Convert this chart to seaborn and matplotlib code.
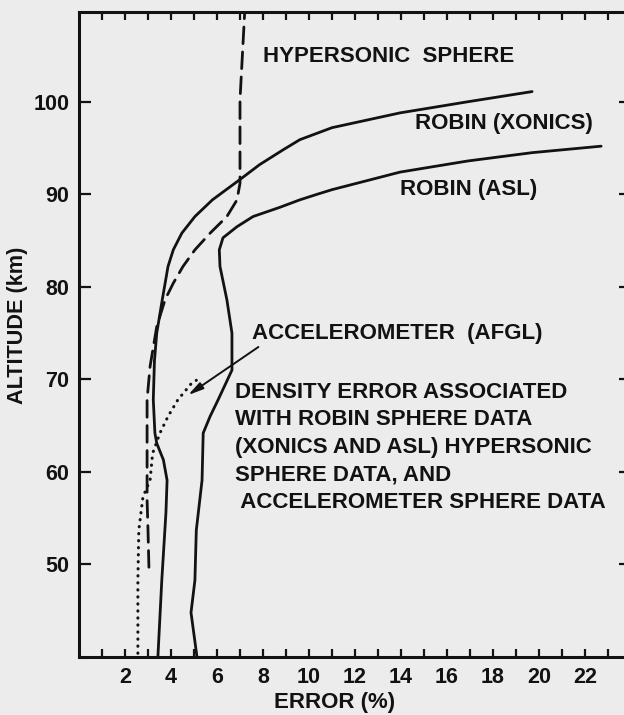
import numpy as np
import seaborn as sns
import matplotlib.pyplot as plt
import pandas as pd

# values (error %, altitude km)
xonics_alt = [40, 48.3, 55.6, 59.1, 61.3, 63.1, 64.2, 67.8, 72, 75, 78.6, 82.2,
              84, 85.8, 87.6, 89.4, 91.6, 93.2, 94.8, 95.9, 97.2, 98.8, 100, 101.1]
xonics_err = [3.43, 3.6, 3.78, 3.83, 3.67, 3.38, 3.3, 3.23, 3.28, 3.38, 3.62, 3.87,
              4.1, 4.47, 5.04, 5.8, 7.0, 7.85, 8.87, 9.6, 11.0, 13.96, 16.9, 19.7]

asl_alt = [40, 44.8, 48.3, 53.7, 59.1, 64.2, 66, 67.8, 71, 75, 78.6, 82.2, 84,
           85.3, 86.5, 87.6, 88.6, 89.4, 90.0, 90.5, 92.4, 93.6, 94.5, 95.2]
asl_err = [5.13, 4.87, 5.04, 5.1, 5.35, 5.4, 5.7, 6.05, 6.65, 6.65, 6.43, 6.13, 6.1,
           6.26, 6.87, 7.57, 8.74, 9.6, 10.35, 11.0, 13.96, 16.9, 19.7, 22.7]

hyp_alt = [49.7, 53.7, 57, 62.4, 67.8, 71.4, 75.7, 78.6, 80.4, 82.2, 84, 85.8,
           87.6, 89.4, 91.2, 100.2, 109.5]
hyp_err = [3.04, 3.0, 2.96, 2.96, 2.96, 3.09, 3.38, 3.74, 4.1, 4.52, 5.04, 5.7,
           6.43, 6.87, 7.0, 7.0, 7.2]

acc_alt = [40.4, 48.3, 53.7, 57.3, 59.1, 62, 64.2, 66, 67.8, 69.6, 69.9]
acc_err = [2.56, 2.56, 2.6, 2.78, 3.09, 3.2, 3.52, 3.87, 4.3, 4.9, 5.1]

x_ticklabels = [2, 4, 6, 8, 10, 12, 14, 16, 18, 20, 22]
y_ticklabels = [50, 60, 70, 80, 90, 100]

note_lines = ["DENSITY ERROR ASSOCIATED",
              "WITH ROBIN SPHERE DATA",
              "(XONICS AND ASL) HYPERSONIC",
              "SPHERE DATA, AND",
              " ACCELEROMETER SPHERE DATA"]

ink = "#121212"
paper = "#ececec"

sns.set_style("ticks")
plt.rcParams["font.family"] = ["Liberation Sans", "DejaVu Sans"]
plt.rcParams["font.weight"] = "bold"

fig = plt.figure(figsize=(6.24, 7.15), dpi=100, facecolor=paper)
ax = fig.add_axes([79 / 624, 58 / 715, 552 / 624, 645 / 715])
ax.set_facecolor(paper)

curves = [
    (xonics_err, xonics_alt, "-", 2.0),
    (asl_err, asl_alt, "-", 2.0),
    (hyp_err, hyp_alt, (0, (6, 3)), 2.0),
    (acc_err, acc_alt, (0, (0.1, 2.2)), 2.2),
]
for err, alt, ls, lw in curves:
    df = pd.DataFrame({"err": err, "alt": alt})
    sns.lineplot(data=df, x="err", y="alt", sort=False, estimator=None,
                 color=ink, lw=lw, ax=ax)
    ax.lines[-1].set_linestyle(ls)
    ax.lines[-1].set_dash_capstyle("round")
    ax.lines[-1].set_solid_joinstyle("round")

ax.annotate("", xy=(4.74, 68.3), xytext=(7.8, 73.5),
            arrowprops=dict(arrowstyle="-|>,head_length=0.9,head_width=0.22",
                            color=ink, lw=1.4, shrinkA=0, shrinkB=0))

ax.set_xlim(0, 24)
ax.set_ylim(40, 109.7)

ax.set_xticks(np.arange(1, 24))
ax.set_xticklabels([str(v) if v in x_ticklabels else "" for v in range(1, 24)])
ax.set_yticks(y_ticklabels)
ax.set_yticklabels([str(v) for v in y_ticklabels])
ax.tick_params(axis="x", direction="in", length=6, width=1.6, top=True,
               pad=7, labelsize=15.5, colors=ink)
ax.tick_params(axis="y", direction="in", length=8.5, width=1.6, right=True,
               pad=7, labelsize=15.5, colors=ink)

for side in ["left", "bottom", "top", "right"]:
    ax.spines[side].set_linewidth(2.2)
    ax.spines[side].set_color(ink)

ax.set_xlabel("ERROR (%)", fontsize=16, fontweight="bold", color=ink)
ax.xaxis.set_label_coords(11.1 / 24, -0.054)
ax.set_ylabel("ALTITUDE (km)", fontsize=15.6, fontweight="bold", color=ink)
ax.yaxis.set_label_coords(-0.093, 0.515)

txt = dict(fontsize=16, fontweight="bold", color=ink, va="center", ha="left")
ax.text(8.0, 104.9, "HYPERSONIC  SPHERE", **txt)
ax.text(14.6, 97.7, "ROBIN (XONICS)", **txt)
ax.text(13.96, 90.5, "ROBIN (ASL)", **txt)
ax.text(7.52, 75.0, "ACCELEROMETER  (AFGL)", **txt)
for i, line in enumerate(note_lines):
    ax.text(6.8, 68.6 - i * 2.98, line, **txt)

fig.savefig("out.png", dpi=100, facecolor=paper)
